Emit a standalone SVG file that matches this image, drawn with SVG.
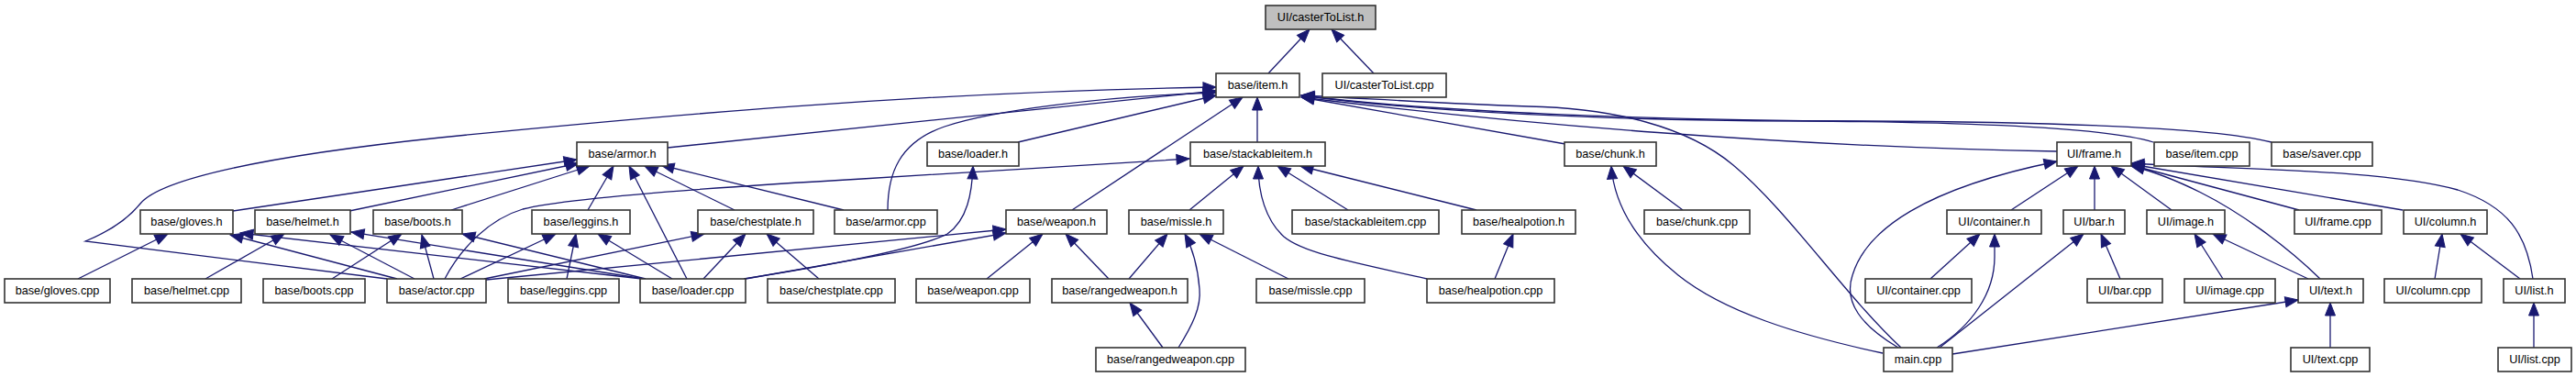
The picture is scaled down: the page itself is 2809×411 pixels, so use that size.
<svg xmlns="http://www.w3.org/2000/svg" width="2809" height="411" viewBox="0 0 2809 411">
<style>
.n rect{fill:#fff;stroke:#333;stroke-width:1.6}
.n text{font-family:"Liberation Sans",Arial,sans-serif;font-size:12.7px;text-anchor:middle;fill:#000}
#edges path{fill:none;stroke:#191970;stroke-width:1.3;marker-end:url(#ah)}
</style>
<defs>
<marker id="ah" markerUnits="userSpaceOnUse" markerWidth="14" markerHeight="11" refX="14" refY="5.5" orient="auto" overflow="visible">
<path d="M0,0 L14,5.5 L0,11 z" fill="#191970" stroke="#191970" stroke-width="1"/>
</marker>
</defs>
<rect width="2809" height="411" fill="#fff"/>
<g id="edges">
<path d="M1383,80 L1428,32"/>
<path d="M1498,80 L1452,32"/>
<path d="M1371,155 L1371,106"/>
<path d="M1169,229 L1355,106"/>
<path d="M728,161 L1326,99"/>
<path d="M1110,155 L1326,104"/>
<path d="M968,229 C968,190 980,155 1030,138 C1080,121 1200,105 1326,101"/>
<path d="M422,304 L93,263 C120,252 140,238 153,222 C175,195 290,170 480,150 C700,128 1000,100 1326,95"/>
<path d="M1707,157 L1419,106"/>
<path d="M2243,165 C1950,160 1650,135 1419,106"/>
<path d="M2348,155 C2300,140 2150,133 1961,132 C1750,131 1550,122 1419,104"/>
<path d="M2477,155 C2420,140 2250,133 2032,132 C1800,131 1560,122 1419,104"/>
<path d="M2073,379 C2010,320 1950,230 1890,180 C1840,138 1760,118 1667,116 C1580,113 1500,108 1419,104"/>
<path d="M254,230 L629,174"/>
<path d="M381,230 L631,178"/>
<path d="M492,229 L643,181"/>
<path d="M641,229 L669,181"/>
<path d="M749,304 L686,181"/>
<path d="M801,229 L703,181"/>
<path d="M920,229 L721,180"/>
<path d="M85,304 L183,255"/>
<path d="M433,304 L251,256"/>
<path d="M700,304 L262,254"/>
<path d="M224,304 L310,255"/>
<path d="M452,304 L360,256"/>
<path d="M702,304 L383,253"/>
<path d="M362,304 L438,255"/>
<path d="M473,304 L460,256"/>
<path d="M704,304 L504,255"/>
<path d="M502,304 L606,255"/>
<path d="M618,304 L628,255"/>
<path d="M733,304 L652,255"/>
<path d="M528,304 L768,255"/>
<path d="M767,304 L813,255"/>
<path d="M893,304 L836,255"/>
<path d="M530,305 L1097,250"/>
<path d="M813,304 L1097,254"/>
<path d="M1076,304 L1137,255"/>
<path d="M1209,304 L1162,255"/>
<path d="M811,304 C900,290 1000,272 1033,255 C1055,240 1060,210 1061,181"/>
<path d="M485,304 C500,275 530,240 570,228 C620,215 800,203 940,195 L1297,173"/>
<path d="M1297,229 L1356,181"/>
<path d="M1556,304 C1470,285 1420,275 1400,258 C1380,240 1372,210 1372,181"/>
<path d="M1470,229 L1393,181"/>
<path d="M1610,229 L1418,181"/>
<path d="M1231,304 L1273,255"/>
<path d="M1285,379 C1300,355 1310,335 1308,315 C1306,290 1300,270 1292,255"/>
<path d="M1405,304 L1308,255"/>
<path d="M1268,379 L1232,330"/>
<path d="M1630,304 L1650,255"/>
<path d="M1835,229 L1770,181"/>
<path d="M2053,385 C1960,365 1880,340 1830,300 C1780,260 1760,220 1757,181"/>
<path d="M2070,379 C2030,355 2010,330 2020,300 C2035,250 2100,205 2243,176"/>
<path d="M2193,229 L2266,181"/>
<path d="M2284,229 L2284,181"/>
<path d="M2368,229 L2302,181"/>
<path d="M2530,304 C2490,265 2440,230 2400,210 C2370,195 2345,186 2324,181"/>
<path d="M2507,229 L2324,180"/>
<path d="M2620,229 L2324,179"/>
<path d="M2762,304 C2755,255 2735,225 2680,207 C2600,185 2450,185 2324,178"/>
<path d="M2105,304 L2159,255"/>
<path d="M2112,379 C2150,355 2175,320 2175,280 L2175,255"/>
<path d="M2312,304 L2291,255"/>
<path d="M2115,379 L2272,255"/>
<path d="M2424,304 L2393,255"/>
<path d="M2517,304 L2413,255"/>
<path d="M2541,379 L2541,330"/>
<path d="M2129,386 L2506,327"/>
<path d="M2655,304 L2663,255"/>
<path d="M2748,304 L2683,255"/>
<path d="M2763,379 L2763,330"/>
</g>
<g id="n_castertolist_h" class="n"><rect x="1380" y="6" width="120" height="26" style="fill:#bfbfbf"/><text x="1440" y="22.7">UI/casterToList.h</text></g>
<g id="n_item_h" class="n"><rect x="1326" y="80" width="91" height="26"/><text x="1371.5" y="96.7">base/item.h</text></g>
<g id="n_castertolist_cpp" class="n"><rect x="1442" y="80" width="135" height="26"/><text x="1509.5" y="96.7">UI/casterToList.cpp</text></g>
<g id="n_armor_h" class="n"><rect x="629" y="155" width="99" height="26"/><text x="678.5" y="171.7">base/armor.h</text></g>
<g id="n_loader_h" class="n"><rect x="1011" y="155" width="100" height="26"/><text x="1061" y="171.7">base/loader.h</text></g>
<g id="n_stackableitem_h" class="n"><rect x="1298" y="155" width="147" height="26"/><text x="1371.5" y="171.7">base/stackableitem.h</text></g>
<g id="n_chunk_h" class="n"><rect x="1706" y="155" width="100" height="26"/><text x="1756" y="171.7">base/chunk.h</text></g>
<g id="n_frame_h" class="n"><rect x="2243" y="155" width="81" height="26"/><text x="2283.5" y="171.7">UI/frame.h</text></g>
<g id="n_item_cpp" class="n"><rect x="2349" y="155" width="104" height="26"/><text x="2401" y="171.7">base/item.cpp</text></g>
<g id="n_saver_cpp" class="n"><rect x="2477" y="155" width="110" height="26"/><text x="2532" y="171.7">base/saver.cpp</text></g>
<g id="n_gloves_h" class="n"><rect x="153" y="229" width="101" height="26"/><text x="203.5" y="245.7">base/gloves.h</text></g>
<g id="n_helmet_h" class="n"><rect x="278" y="229" width="104" height="26"/><text x="330" y="245.7">base/helmet.h</text></g>
<g id="n_boots_h" class="n"><rect x="407" y="229" width="97" height="26"/><text x="455.5" y="245.7">base/boots.h</text></g>
<g id="n_leggins_h" class="n"><rect x="580" y="229" width="107" height="26"/><text x="633.5" y="245.7">base/leggins.h</text></g>
<g id="n_chestplate_h" class="n"><rect x="761" y="229" width="126" height="26"/><text x="824" y="245.7">base/chestplate.h</text></g>
<g id="n_armor_cpp" class="n"><rect x="910" y="229" width="112" height="26"/><text x="966" y="245.7">base/armor.cpp</text></g>
<g id="n_weapon_h" class="n"><rect x="1097" y="229" width="110" height="26"/><text x="1152" y="245.7">base/weapon.h</text></g>
<g id="n_missle_h" class="n"><rect x="1231" y="229" width="103" height="26"/><text x="1282.5" y="245.7">base/missle.h</text></g>
<g id="n_stackableitem_cpp" class="n"><rect x="1409" y="229" width="160" height="26"/><text x="1489" y="245.7">base/stackableitem.cpp</text></g>
<g id="n_healpotion_h" class="n"><rect x="1594" y="229" width="124" height="26"/><text x="1656" y="245.7">base/healpotion.h</text></g>
<g id="n_chunk_cpp" class="n"><rect x="1793" y="229" width="115" height="26"/><text x="1850.5" y="245.7">base/chunk.cpp</text></g>
<g id="n_container_h" class="n"><rect x="2123" y="229" width="103" height="26"/><text x="2174.5" y="245.7">UI/container.h</text></g>
<g id="n_bar_h" class="n"><rect x="2250" y="229" width="67" height="26"/><text x="2283.5" y="245.7">UI/bar.h</text></g>
<g id="n_image_h" class="n"><rect x="2341" y="229" width="85" height="26"/><text x="2383.5" y="245.7">UI/image.h</text></g>
<g id="n_frame_cpp" class="n"><rect x="2502" y="229" width="95" height="26"/><text x="2549.5" y="245.7">UI/frame.cpp</text></g>
<g id="n_column_h" class="n"><rect x="2621" y="229" width="91" height="26"/><text x="2666.5" y="245.7">UI/column.h</text></g>
<g id="n_gloves_cpp" class="n"><rect x="5" y="304" width="115" height="26"/><text x="62.5" y="320.7">base/gloves.cpp</text></g>
<g id="n_helmet_cpp" class="n"><rect x="144" y="304" width="119" height="26"/><text x="203.5" y="320.7">base/helmet.cpp</text></g>
<g id="n_boots_cpp" class="n"><rect x="287" y="304" width="111" height="26"/><text x="342.5" y="320.7">base/boots.cpp</text></g>
<g id="n_actor_cpp" class="n"><rect x="422" y="304" width="108" height="26"/><text x="476" y="320.7">base/actor.cpp</text></g>
<g id="n_leggins_cpp" class="n"><rect x="554" y="304" width="121" height="26"/><text x="614.5" y="320.7">base/leggins.cpp</text></g>
<g id="n_loader_cpp" class="n"><rect x="698" y="304" width="115" height="26"/><text x="755.5" y="320.7">base/loader.cpp</text></g>
<g id="n_chestplate_cpp" class="n"><rect x="837" y="304" width="139" height="26"/><text x="906.5" y="320.7">base/chestplate.cpp</text></g>
<g id="n_weapon_cpp" class="n"><rect x="999" y="304" width="124" height="26"/><text x="1061" y="320.7">base/weapon.cpp</text></g>
<g id="n_rangedweapon_h" class="n"><rect x="1147" y="304" width="148" height="26"/><text x="1221" y="320.7">base/rangedweapon.h</text></g>
<g id="n_missle_cpp" class="n"><rect x="1370" y="304" width="118" height="26"/><text x="1429" y="320.7">base/missle.cpp</text></g>
<g id="n_healpotion_cpp" class="n"><rect x="1556" y="304" width="139" height="26"/><text x="1625.5" y="320.7">base/healpotion.cpp</text></g>
<g id="n_container_cpp" class="n"><rect x="2034" y="304" width="116" height="26"/><text x="2092" y="320.7">UI/container.cpp</text></g>
<g id="n_bar_cpp" class="n"><rect x="2276" y="304" width="82" height="26"/><text x="2317" y="320.7">UI/bar.cpp</text></g>
<g id="n_image_cpp" class="n"><rect x="2382" y="304" width="99" height="26"/><text x="2431.5" y="320.7">UI/image.cpp</text></g>
<g id="n_text_h" class="n"><rect x="2506" y="304" width="71" height="26"/><text x="2541.5" y="320.7">UI/text.h</text></g>
<g id="n_column_cpp" class="n"><rect x="2600" y="304" width="106" height="26"/><text x="2653" y="320.7">UI/column.cpp</text></g>
<g id="n_list_h" class="n"><rect x="2730" y="304" width="67" height="26"/><text x="2763.5" y="320.7">UI/list.h</text></g>
<g id="n_rangedweapon_cpp" class="n"><rect x="1195" y="379" width="163" height="26"/><text x="1276.5" y="395.7">base/rangedweapon.cpp</text></g>
<g id="n_main_cpp" class="n"><rect x="2054" y="379" width="75" height="26"/><text x="2091.5" y="395.7">main.cpp</text></g>
<g id="n_text_cpp" class="n"><rect x="2498" y="379" width="86" height="26"/><text x="2541" y="395.7">UI/text.cpp</text></g>
<g id="n_list_cpp" class="n"><rect x="2724" y="379" width="80" height="26"/><text x="2764" y="395.7">UI/list.cpp</text></g>
</svg>
